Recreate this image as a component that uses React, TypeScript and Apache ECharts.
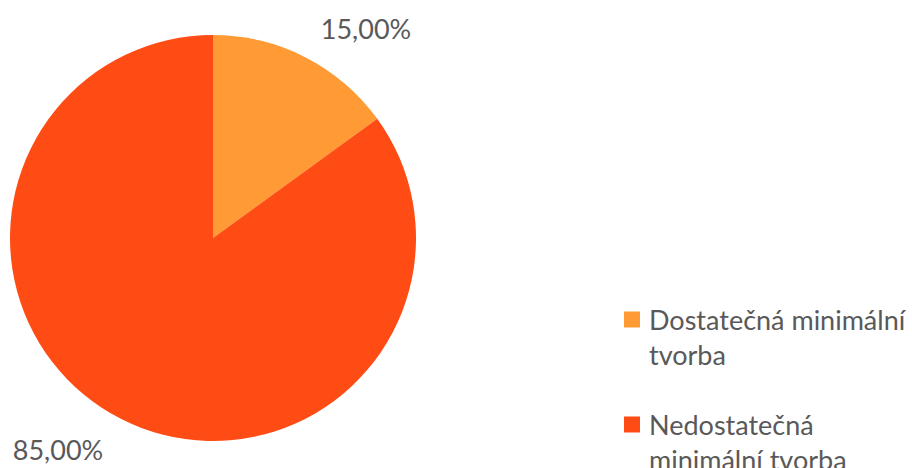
import React, { useEffect, useRef } from "react";
import * as echarts from "echarts";

const categories = ["Dostatečná minimální tvorba", "Nedostatečná minimální tvorba"];
const legendLines = [
  ["Dostatečná minimální", "tvorba"],
  ["Nedostatečná", "minimální tvorba"],
];
const values = [15, 85];
const colors = ["#FF9A35", "#FF4B14"];

export default function App() {
  const ref = useRef<HTMLDivElement>(null);
  useEffect(() => {
    document.body.style.margin = "0";
    const chart = echarts.init(ref.current!, null, { renderer: "svg" });
    const font = "Lato, 'Open Sans', sans-serif";
    const labelPos = [
      [366, 28],
      [58, 449],
    ];
    chart.setOption({
      animation: false,
      backgroundColor: "#ffffff",
      color: colors,
      legend: {
        orient: "vertical",
        left: 624,
        top: 267,
        width: 288,
        height: 400,
        padding: 0,
        itemGap: 0,
        itemWidth: 16,
        itemHeight: 16,
        icon: "rect",
        data: categories,
        formatter: (name: string) => {
          const i = categories.indexOf(name);
          return "\n" + legendLines[i].join("\n");
        },
        textStyle: {
          fontFamily: font,
          fontSize: 27,
          lineHeight: 35,
          color: "#595959",
          padding: [0, 0, 0, 4],
        },
      },
      series: [
        {
          type: "pie",
          center: [213, 238],
          radius: 203,
          startAngle: 90,
          clockwise: true,
          data: categories.map((c, i) => ({ name: c, value: values[i] })),
          itemStyle: { borderWidth: 0 },
          label: {
            show: true,
            position: "outside",
            overflow: "none",
            formatter: (p: any) => p.value.toFixed(2).replace(".", ",") + "%",
            fontFamily: font,
            fontSize: 27,
            color: "#595959",
          },
          labelLine: { show: false },
          labelLayout: (p: any) => ({
            x: labelPos[p.dataIndex][0],
            y: labelPos[p.dataIndex][1],
            align: "center",
            verticalAlign: "middle",
          }),
          emphasis: { disabled: true },
        },
      ],
    });
    return () => chart.dispose();
  }, []);
  return <div ref={ref} style={{ width: 912, height: 468 }} />;
}
